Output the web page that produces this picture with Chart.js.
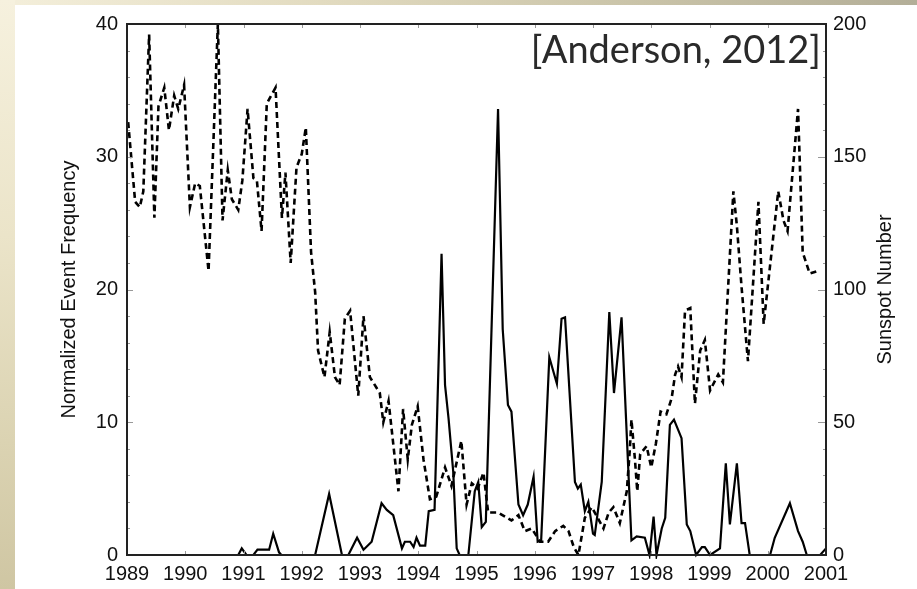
<!DOCTYPE html>
<html>
<head>
<meta charset="utf-8">
<script src="https://cdn.jsdelivr.net/npm/chart.js@4/dist/chart.umd.min.js"></script>
<style>
  html, body { margin: 0; padding: 0; width: 917px; height: 589px; overflow: hidden; }
  body { position: relative; background: #fff; }
  #topStrip { position: absolute; left: 0; top: 0; width: 917px; height: 5px;
              background: linear-gradient(to right, #f4efdb 0%, #e2dbc0 35%, #c9c3a8 70%, #b3ae98 100%); }
  #leftStrip { position: absolute; left: 0; top: 0; width: 15px; height: 589px;
               background: linear-gradient(to bottom, #f6f1de 0%, #ebe4c9 40%, #dbd3b2 75%, #cfc6a3 100%); }
  #chart { position: absolute; left: 0; top: 0; }
</style>
</head>
<body>
<div id="topStrip"></div>
<div id="leftStrip"></div>
<canvas id="chart" width="917" height="589"></canvas>
<script>
// sunspot number (dashed, right axis)
var ssnYears = [1989.02, 1989.14, 1989.22, 1989.28, 1989.38, 1989.47, 1989.54, 1989.64, 1989.72, 1989.81,
  1989.88, 1989.98, 1990.08, 1990.17, 1990.25, 1990.40, 1990.56, 1990.64, 1990.73, 1990.80,
  1990.91, 1990.98, 1991.07, 1991.17, 1991.23, 1991.31, 1991.40, 1991.55, 1991.66, 1991.72,
  1991.81, 1991.91, 1992.00, 1992.07, 1992.16, 1992.23, 1992.28, 1992.39, 1992.48, 1992.57,
  1992.65, 1992.74, 1992.83, 1992.97, 1993.06, 1993.17, 1993.34, 1993.40, 1993.49, 1993.60,
  1993.66, 1993.74, 1993.82, 1993.89, 1993.99, 1994.09, 1994.20, 1994.31, 1994.46, 1994.57,
  1994.65, 1994.74, 1994.83, 1994.92, 1995.02, 1995.12, 1995.20, 1995.37, 1995.60, 1995.72,
  1995.83, 1995.95, 1996.09, 1996.23, 1996.35, 1996.49, 1996.58, 1996.67, 1996.75, 1996.86,
  1996.98, 1997.18, 1997.27, 1997.35, 1997.46, 1997.52, 1997.58, 1997.63, 1997.66, 1997.72,
  1997.76, 1997.81, 1997.92, 1998.00, 1998.08, 1998.16, 1998.26, 1998.35, 1998.41, 1998.46,
  1998.52, 1998.58, 1998.67, 1998.75, 1998.84, 1998.92, 1999.01, 1999.15, 1999.23, 1999.41,
  1999.47, 1999.55, 1999.66, 1999.84, 1999.93, 2000.18, 2000.27, 2000.34, 2000.52, 2000.60,
  2000.72, 2000.86];
var ssnValues = [163, 133, 131, 137, 196, 127, 169, 176, 160, 173,
  168, 177, 131, 140, 139, 107, 200, 126, 145, 134,
  130, 141, 168, 142, 141, 122, 170, 176, 127, 144,
  110, 146, 151, 161, 114, 99, 77, 67, 84, 67,
  64, 89, 92, 60, 90, 67, 61, 50, 58, 36,
  24, 55, 36, 49, 56, 36, 21, 22, 33, 26,
  34, 43, 19, 27, 25, 31, 16, 16, 13, 15,
  9, 10, 5, 5, 9, 11, 9, 3, 0, 14,
  18, 10, 16, 18, 12, 18, 24, 39, 51, 36,
  24, 38, 41, 33, 42, 54, 53, 59, 68, 71,
  67, 92, 93, 57, 77, 81, 62, 68, 65, 137,
  124, 101, 73, 133, 87, 137, 126, 122, 168, 114,
  106, 107];

// normalized event frequency (solid, left axis)
var freqYears = [1989.00, 1990.91, 1990.97, 1991.05, 1991.17, 1991.24, 1991.44, 1991.51, 1991.61, 1991.65,
  1992.23, 1992.47, 1992.69, 1992.80, 1992.95, 1993.06, 1993.20, 1993.37, 1993.46, 1993.57,
  1993.72, 1993.77, 1993.86, 1993.92, 1993.97, 1994.03, 1994.12, 1994.18, 1994.28, 1994.40,
  1994.46, 1994.52, 1994.60, 1994.66, 1994.71, 1994.86, 1994.97, 1995.03, 1995.09, 1995.16,
  1995.37, 1995.45, 1995.54, 1995.60, 1995.72, 1995.80, 1995.88, 1995.98, 1996.05, 1996.11,
  1996.25, 1996.38, 1996.46, 1996.52, 1996.69, 1996.74, 1996.79, 1996.86, 1996.92, 1997.00,
  1997.03, 1997.15, 1997.28, 1997.36, 1997.49, 1997.66, 1997.75, 1997.89, 1997.97, 1998.04,
  1998.09, 1998.18, 1998.24, 1998.32, 1998.39, 1998.52, 1998.61, 1998.67, 1998.77, 1998.87,
  1998.92, 1999.01, 1999.18, 1999.28, 1999.35, 1999.47, 1999.55, 1999.61, 1999.69, 2000.04,
  2000.12, 2000.38, 2000.52, 2000.60, 2000.67, 2000.90, 2001.00];
var freqValues = [0, 0, 0.5, 0, 0, 0.4, 0.4, 1.6, 0.2, 0,
  0, 4.6, 0, 0, 1.3, 0.4, 1.0, 3.9, 3.4, 3.0,
  0.5, 1.0, 1.0, 0.6, 1.3, 0.7, 0.7, 3.3, 3.4, 22.7,
  12.8, 10.3, 6.3, 0.5, 0, 0, 4.8, 5.5, 2.1, 2.5,
  33.6, 17, 11.3, 10.8, 3.8, 3.0, 3.8, 5.9, 1.0, 1.1,
  14.9, 12.9, 17.8, 17.9, 5.5, 5.0, 5.3, 3.3, 4.0, 1.6,
  1.5, 5.5, 18.3, 12.2, 17.9, 1.1, 1.4, 1.3, 0, 2.9,
  0, 2.0, 2.8, 9.8, 10.2, 8.8, 2.3, 1.8, 0, 0.6,
  0.6, 0, 0.5, 6.9, 2.3, 6.9, 2.4, 2.4, 0, 0,
  1.3, 3.9, 1.8, 1.0, 0, 0, 0.5];

var yearTicks = [1989, 1990, 1991, 1992, 1993, 1994, 1995, 1996, 1997, 1998, 1999, 2000, 2001];
var leftTicks = [0, 10, 20, 30, 40];
var rightTicks = [0, 50, 100, 150, 200];

function pairs(xs, ys) {
  return xs.map(function(x, i) { return { x: x, y: ys[i] }; });
}

Chart.defaults.font.family = '"Liberation Sans", Arial, sans-serif';
Chart.defaults.color = '#111';

// box, inward ticks, axis titles and the citation
var framePlugin = {
  id: 'frame',
  afterDraw: function(chart) {
    var c = chart.ctx, a = chart.chartArea;
    var sx = chart.scales.x, sy = chart.scales.y, sr = chart.scales.y2;
    c.save();
    c.strokeStyle = '#999';
    c.lineWidth = 1;
    c.beginPath();
    yearTicks.forEach(function(t) {
      var px = Math.round(sx.getPixelForValue(t)) + 0.5;
      c.moveTo(px, a.top); c.lineTo(px, a.top + 4);
      c.moveTo(px, a.bottom); c.lineTo(px, a.bottom - 4);
    });
    for (var v = 0; v <= 40; v += 2) {
      var py = Math.round(sy.getPixelForValue(v)) + 0.5;
      c.moveTo(a.left, py); c.lineTo(a.left + (v % 10 ? 3 : 6), py);
    }
    for (var w = 0; w <= 200; w += 10) {
      var pr = Math.round(sr.getPixelForValue(w)) + 0.5;
      c.moveTo(a.right, pr); c.lineTo(a.right - (w % 50 ? 3 : 8), pr);
    }
    c.stroke();

    c.strokeStyle = '#222';
    c.lineWidth = 2;
    c.strokeRect(a.left, a.top, a.right - a.left, a.bottom - a.top);

    var mid = (a.top + a.bottom) / 2;
    c.fillStyle = '#111';
    c.font = '20px "Liberation Sans", Arial, sans-serif';
    c.textAlign = 'center';
    c.textBaseline = 'middle';
    c.save();
    c.translate(a.left - 58, mid);
    c.rotate(-Math.PI / 2);
    c.fillText('Normalized Event Frequency', 0, 0);
    c.restore();
    c.save();
    c.translate(a.right + 59, mid);
    c.rotate(-Math.PI / 2);
    c.fillText('Sunspot Number', 0, 0);
    c.restore();

    c.fillStyle = '#2a2a2a';
    c.font = '38px Lato, "Open Sans", sans-serif';
    c.textAlign = 'right';
    c.textBaseline = 'alphabetic';
    c.fillText('[Anderson, 2012]', a.right - 5, a.top + 39);
    c.restore();
  }
};

new Chart(document.getElementById('chart').getContext('2d'), {
  type: 'line',
  data: {
    datasets: [{
      label: 'Normalized Event Frequency',
      data: pairs(freqYears, freqValues),
      yAxisID: 'y',
      borderColor: '#000',
      borderWidth: 2.2,
      pointRadius: 0,
      tension: 0,
      clip: 4
    }, {
      label: 'Sunspot Number',
      data: pairs(ssnYears, ssnValues),
      yAxisID: 'y2',
      borderColor: '#000',
      borderWidth: 2.6,
      borderDash: [6, 4],
      pointRadius: 0,
      tension: 0,
      clip: 4
    }]
  },
  options: {
    responsive: false,
    animation: false,
    layout: { padding: { top: 24, left: 0, right: 0, bottom: 0 } },
    plugins: { legend: { display: false }, tooltip: { enabled: false } },
    scales: {
      x: {
        type: 'linear',
        min: 1989,
        max: 2001,
        afterBuildTicks: function(s) { s.ticks = yearTicks.map(function(v) { return { value: v }; }); },
        ticks: { font: { size: 20 }, padding: 7, maxRotation: 0, autoSkip: false,
                 callback: function(v) { return String(v); } },
        grid: { display: false, drawTicks: false },
        border: { display: false },
        afterFit: function(s) { s.height = 34; }
      },
      y: {
        position: 'left',
        min: 0,
        max: 40,
        afterBuildTicks: function(s) { s.ticks = leftTicks.map(function(v) { return { value: v }; }); },
        ticks: { font: { size: 20 }, padding: 9 },
        grid: { display: false, drawTicks: false },
        border: { display: false },
        afterFit: function(s) { s.width = 127; }
      },
      y2: {
        position: 'right',
        min: 0,
        max: 200,
        afterBuildTicks: function(s) { s.ticks = rightTicks.map(function(v) { return { value: v }; }); },
        ticks: { font: { size: 20 }, padding: 7 },
        grid: { display: false, drawTicks: false },
        border: { display: false },
        afterFit: function(s) { s.width = 91; }
      }
    }
  },
  plugins: [framePlugin]
});
</script>
</body>
</html>
